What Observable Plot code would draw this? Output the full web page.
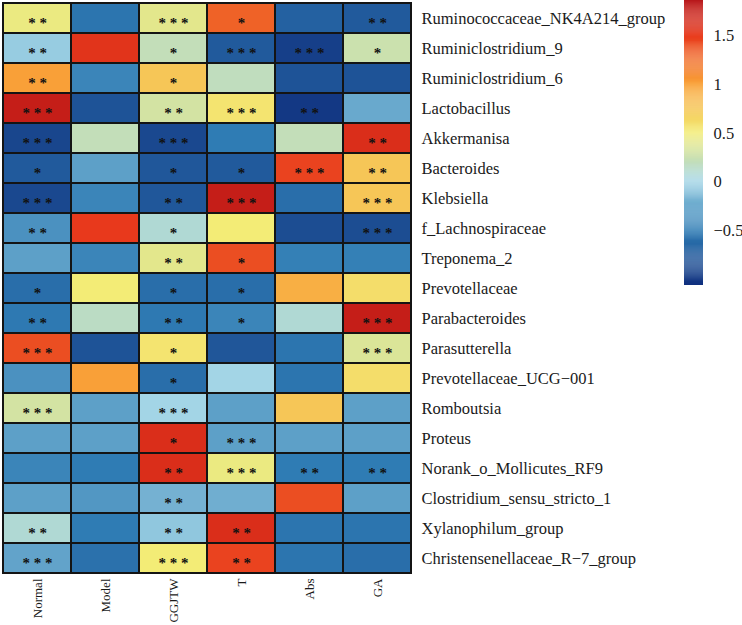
<!DOCTYPE html>
<html><head><meta charset="utf-8">
<script src="https://cdn.jsdelivr.net/npm/d3@7"></script>
<script src="https://cdn.jsdelivr.net/npm/@observablehq/plot@0.6"></script>
<style>
body{margin:0;background:#fff;}
#wrap{position:relative;width:742px;height:625px;overflow:hidden;background:#fff;}
#wrap svg{position:absolute;top:0;overflow:visible;}
</style></head><body><div id="wrap"></div>
<script>
const groups = ["Normal","Model","GGJTW","T","Abs","GA"];
const taxa = [
  "Ruminococcaceae_NK4A214_group","Ruminiclostridium_9","Ruminiclostridium_6","Lactobacillus",
  "Akkermanisa","Bacteroides","Klebsiella","f_Lachnospiraceae","Treponema_2","Prevotellaceae",
  "Parabacteroides","Parasutterella","Prevotellaceae_UCG\u2212001","Romboutsia","Proteus",
  "Norank_o_Mollicutes_RF9","Clostridium_sensu_stricto_1","Xylanophilum_group","Christensenellaceae_R\u22127_group"
];
// z-scores per row (columns in order of groups)
const values = [
  [0.45,-0.55,0.40,1.30,-0.70,-0.75],
  [-0.05,1.55,0.20,-0.75,-0.95,0.25],
  [1.00,-0.45,0.75,0.18,-0.80,-0.80],
  [1.75,-0.80,0.30,0.55,-1.00,-0.25],
  [-0.90,0.20,-0.88,-0.50,0.20,1.60],
  [-0.75,-0.30,-0.77,-0.75,1.45,0.75],
  [-0.88,-0.45,-0.77,1.75,-0.60,0.75],
  [-0.38,1.50,0.08,0.50,-0.85,-0.85],
  [-0.30,-0.45,0.40,1.40,-0.48,-0.48],
  [-0.60,0.50,-0.60,-0.60,0.90,0.60],
  [-0.52,0.15,-0.52,-0.45,0.08,1.75],
  [1.40,-0.80,0.55,-0.78,-0.55,0.35],
  [-0.38,1.00,-0.60,0.00,-0.55,0.60],
  [0.30,-0.30,0.00,-0.30,0.75,-0.30],
  [-0.30,-0.30,1.60,-0.30,-0.30,-0.30],
  [-0.45,-0.50,1.60,0.45,-0.50,-0.50],
  [-0.30,-0.35,-0.20,-0.22,1.40,-0.30],
  [0.08,-0.50,-0.08,1.60,-0.55,-0.55],
  [-0.28,-0.58,0.50,1.45,-0.55,-0.60]
];
// number of significance stars per cell
const stars = [
  [2,0,3,1,0,2],
  [2,0,1,3,3,1],
  [2,0,1,0,0,0],
  [3,0,2,3,2,0],
  [3,0,3,0,0,2],
  [1,0,1,1,3,2],
  [3,0,2,3,0,3],
  [2,0,1,0,0,3],
  [0,0,2,1,0,0],
  [1,0,1,1,0,0],
  [2,0,2,1,0,3],
  [3,0,1,0,0,3],
  [0,0,1,0,0,0],
  [3,0,3,0,0,0],
  [0,0,1,3,0,0],
  [0,0,2,3,2,2],
  [0,0,2,0,0,0],
  [2,0,2,2,0,0],
  [3,0,3,2,0,0]
];
const colorTicks = [-0.5,0,0.5,1,1.5];
const colorMin = -1.06, colorMax = 1.86;

const color = {
  type:"linear",
  domain:[colorMin,-0.5,0,0.5,1,1.5,colorMax],
  range:["#10307e","#2f7cb4","#a3d5e6","#f3ec76","#f9a038","#e8391c","#b51216"],
  interpolate:"rgb"
};

const data = [];
taxa.forEach((t,i)=>groups.forEach((g,j)=>data.push({
  taxon:t, group:g, value:values[i][j],
  star:Array(stars[i][j]).fill("*").join(" ")
})));

const font = "'Liberation Serif', 'Times New Roman', serif";

const main = Plot.plot({
  width:742, height:625,
  marginLeft:1, marginRight:329, marginTop:1, marginBottom:51,
  style:{fontFamily:font, background:"transparent", color:"#1a1a1a"},
  x:{domain:groups, padding:0, label:null},
  y:{domain:taxa, padding:0, label:null},
  color,
  marks:[
    Plot.cell(data,{x:"group",y:"taxon",fill:"value",stroke:"#141414",strokeWidth:2}),
    Plot.text(data,{x:"group",y:"taxon",text:"star",fontSize:15,fontWeight:"bold",dy:5,fill:"#111",fontFamily:font}),
    Plot.axisY({anchor:"right",tickSize:0,tickPadding:8,fontSize:16.5,label:null}),
    Plot.axisX({anchor:"bottom",tickSize:0,tickRotate:-90,tickPadding:4,fontSize:13,label:null})
  ]
});

const steps = d3.range(colorMin, colorMax, 0.01);
const bar = Plot.plot({
  width:58, height:290,
  marginLeft:0, marginRight:39, marginTop:0, marginBottom:5,
  style:{fontFamily:font, background:"transparent", color:"#1a1a1a"},
  x:{domain:[0,1], axis:null},
  y:{domain:[colorMin,colorMax], label:null},
  color,
  marks:[
    Plot.rect(steps,{x1:0,x2:1,y1:d=>d,y2:d=>Math.min(d+0.011,colorMax),fill:d=>d}),
    Plot.axisY(colorTicks,{anchor:"right",tickSize:0,tickPadding:10,fontSize:16.5,label:null,
      tickFormat:d=>d<0?"\u2212"+Math.abs(d):String(d)})
  ]
});

const wrap = document.getElementById("wrap");
main.style.left = "0px";
bar.style.left = "684px";
wrap.appendChild(main);
wrap.appendChild(bar);
</script>
</body></html>
